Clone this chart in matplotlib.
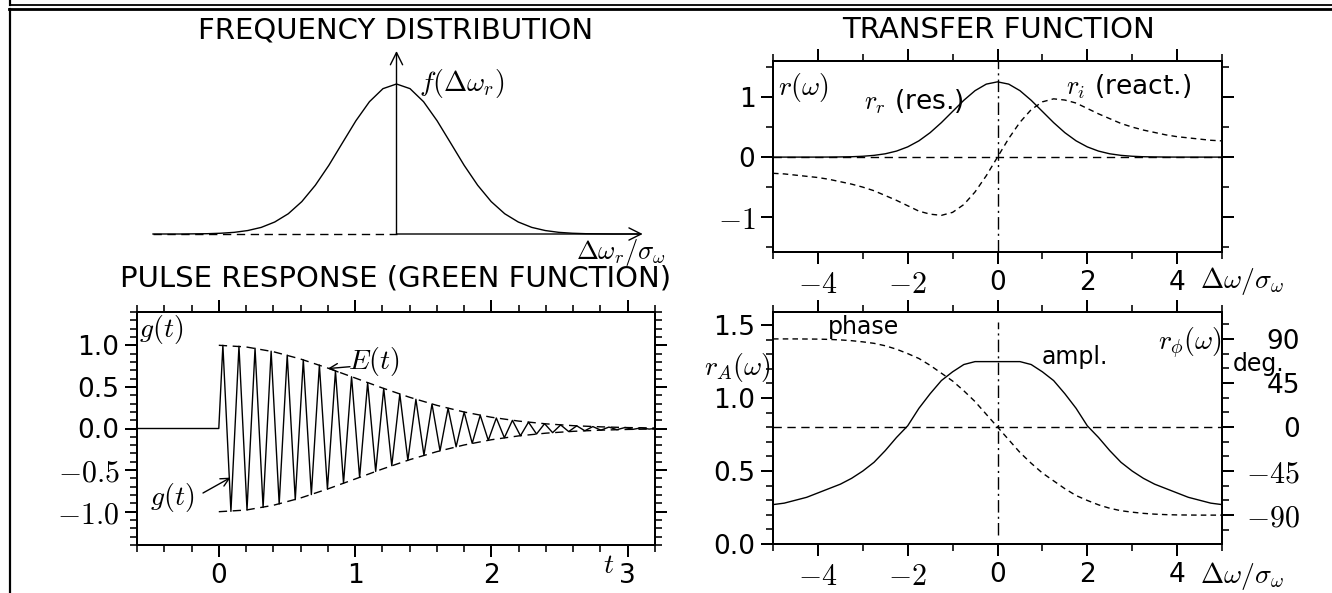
import matplotlib
matplotlib.use('Agg')
import matplotlib.pyplot as plt
from matplotlib.lines import Line2D

plt.rcParams['mathtext.fontset'] = 'cm'
plt.rcParams['font.family'] = ['DejaVu Sans']

W, H = 1332, 593
DPI = 100

# ---------------- data ----------------
# frequency distribution f(dw_r) (x in units of sigma)
freq_x = [-4.5, -4.25, -4.0, -3.75, -3.5, -3.25, -3.0, -2.75, -2.5, -2.25, -2.0, -1.75, -1.5,
          -1.25, -1.0, -0.75, -0.5, -0.25, 0.0, 0.25, 0.5, 0.75, 1.0, 1.25, 1.5, 1.75, 2.0,
          2.25, 2.5, 2.75, 3.0, 3.25, 3.5, 3.75, 4.0, 4.25, 4.5]
freq_f = [0.000, 0.000, 0.000, 0.001, 0.002, 0.005, 0.011, 0.023, 0.044, 0.080, 0.135, 0.216, 0.325,
          0.458, 0.607, 0.755, 0.882, 0.969, 1.000, 0.969, 0.882, 0.755, 0.607, 0.458, 0.325, 0.216,
          0.135, 0.080, 0.044, 0.023, 0.011, 0.005, 0.002, 0.001, 0.000, 0.000, 0.000]

# transfer function
omega = [-5.0, -4.75, -4.5, -4.25, -4.0, -3.75, -3.5, -3.25, -3.0, -2.75, -2.5, -2.25, -2.0, -1.75,
         -1.5, -1.25, -1.0, -0.75, -0.5, -0.25, 0.0, 0.25, 0.5, 0.75, 1.0, 1.25, 1.5, 1.75, 2.0,
         2.25, 2.5, 2.75, 3.0, 3.25, 3.5, 3.75, 4.0, 4.25, 4.5, 4.75, 5.0]
r_res = [0.000, 0.000, 0.000, 0.000, 0.000, 0.001, 0.003, 0.006, 0.014, 0.029, 0.055, 0.100, 0.170,
         0.271, 0.407, 0.574, 0.760, 0.946, 1.106, 1.215, 1.253, 1.215, 1.106, 0.946, 0.760, 0.574,
         0.407, 0.271, 0.170, 0.100, 0.055, 0.029, 0.014, 0.006, 0.003, 0.001, 0.000, 0.000, 0.000,
         0.000, 0.000]
r_react = [-0.27, -0.28, -0.30, -0.32, -0.34, -0.37, -0.41, -0.45, -0.50, -0.56, -0.64, -0.72, -0.81,
           -0.90, -0.95, -0.97, -0.92, -0.79, -0.58, -0.31, 0.00, 0.31, 0.58, 0.79, 0.92, 0.97, 0.95,
           0.90, 0.81, 0.72, 0.64, 0.56, 0.50, 0.45, 0.41, 0.37, 0.34, 0.32, 0.30, 0.28, 0.27]
r_ampl = [0.27, 0.28, 0.30, 0.32, 0.35, 0.38, 0.41, 0.45, 0.50, 0.56, 0.64, 0.73, 0.81, 0.93, 1.03,
          1.12, 1.18, 1.23, 1.25, 1.25, 1.25, 1.25, 1.25, 1.23, 1.18, 1.12, 1.03, 0.93, 0.81, 0.73,
          0.64, 0.56, 0.50, 0.45, 0.41, 0.38, 0.35, 0.32, 0.30, 0.28, 0.27]
r_phase = [90.0, 90.0, 90.0, 89.9, 89.8, 89.5, 89.0, 88.2, 87.0, 85.5, 83.0, 79.5, 75.0, 70.0, 63.0,
           55.0, 47.0, 37.0, 26.0, 13.0, 0.0, -13.0, -26.0, -37.0, -47.0, -55.0, -63.0, -70.0, -75.0,
           -79.5, -83.0, -85.5, -87.0, -88.2, -89.0, -89.5, -89.8, -89.9, -90.0, -90.0, -90.0]

# pulse response: envelope E(t)
env_t = [0.0, 0.2, 0.4, 0.6, 0.8, 1.0, 1.2, 1.4, 1.6, 1.8, 2.0, 2.2, 2.4, 2.6, 2.8, 3.0, 3.2]
env_E = [1.000, 0.980, 0.923, 0.835, 0.726, 0.607, 0.487, 0.375, 0.278, 0.198, 0.135, 0.089, 0.056,
         0.034, 0.020, 0.011, 0.006]

# pulse response g(t): extrema of the oscillation
g_t = [-0.6, 0.0, 0.030, 0.089, 0.148, 0.207, 0.266, 0.325, 0.384, 0.443, 0.502, 0.561, 0.620,
       0.679, 0.738, 0.797, 0.856, 0.915, 0.974, 1.033, 1.092, 1.151, 1.210, 1.269, 1.328, 1.387,
       1.446, 1.505, 1.564, 1.623, 1.682, 1.741, 1.800, 1.859, 1.918, 1.977, 2.036, 2.095, 2.154,
       2.213, 2.272, 2.331, 2.390, 2.449, 2.508, 2.567, 2.626, 2.685, 2.744, 2.803, 2.862, 2.921,
       2.980, 3.039, 3.098, 3.157, 3.2]
g_val = [0.0, 0.0, 1.000, -0.996, 0.989, -0.979, 0.965, -0.949, 0.929, -0.907, 0.882, -0.855, 0.825,
         -0.794, 0.762, -0.728, 0.693, -0.658, 0.622, -0.587, 0.551, -0.516, 0.481, -0.447, 0.414,
         -0.382, 0.351, -0.322, 0.294, -0.268, 0.243, -0.220, 0.198, -0.178, 0.159, -0.142, 0.126,
         -0.111, 0.098, -0.087, 0.076, -0.066, 0.058, -0.050, 0.043, -0.037, 0.032, -0.027, 0.023,
         -0.020, 0.017, -0.014, 0.012, -0.010, 0.008, -0.007, 0.0]

# tick labels (negative numbers are typeset in math/serif, positive ones in sans, as in the original)
tf_xticks = [-4, -2, 0, 2, 4]
tf_xlabels = [r'$-4$', r'$-2$', '0', '2', '4']
tf_yticks = [-1, 0, 1]
tf_ylabels = [r'$-1$', '0', '1']
pr_xticks = [0, 1, 2, 3]
pr_xlabels = ['0', '1', '2', '3']
pr_yticks = [-1.0, -0.5, 0.0, 0.5, 1.0]
pr_ylabels = [r'$-1.0$', r'$-0.5$', '0.0', '0.5', '1.0']
am_yticks = [0.0, 0.5, 1.0, 1.5]
am_ylabels = ['0.0', '0.5', '1.0', '1.5']
ph_yticks = [-90, -45, 0, 45, 90]
ph_ylabels = [r'$-90$', r'$-45$', '0', '45', '90']

# ---------------- helpers ----------------
PX = 72.0 / DPI  # points per pixel


def rect(l, t, r, b):
    return [l / W, 1 - b / H, (r - l) / W, (b - t) / H]


def fx(px):
    return px / W


def fy(py):
    return 1 - py / H


def style(ax):
    for s in ax.spines.values():
        s.set_linewidth(2 * PX)
    ax.tick_params(which='major', direction='out', length=12 * PX, width=2 * PX,
                   labelsize=19, pad=4)
    ax.tick_params(which='minor', direction='out', length=7 * PX, width=1.6 * PX)


def enlarge_math(labels):
    for lab in labels:
        if lab.get_text().startswith('$'):
            lab.set_fontsize(21.5)


LW = 1.0
DASH = (0, (6, 4))
SDASH = (0, (4, 3))
DASHDOT = (0, (9, 3, 1.5, 3))

fig = plt.figure(figsize=(W / DPI, H / DPI), dpi=DPI)

# ---------------- frame lines ----------------
fig.add_artist(Line2D([fx(10), 1], [fy(4.8), fy(4.8)], transform=fig.transFigure, color='k', lw=1.8 * PX))
fig.add_artist(Line2D([fx(10), fx(10)], [1, fy(4.8)], transform=fig.transFigure, color='k', lw=2.2 * PX))
fig.add_artist(Line2D([fx(9), 1], [fy(8.7), fy(8.7)], transform=fig.transFigure, color='k', lw=2.8 * PX))
fig.add_artist(Line2D([fx(10), fx(10)], [fy(8.7), 0], transform=fig.transFigure, color='k', lw=2.2 * PX))

# ---------------- frequency distribution ----------------
ax1 = fig.add_axes(rect(153, 45, 640, 234))
ax1.set_xlim(-4.5, 4.5)
ax1.set_ylim(0, 1.26)
ax1.axis('off')
ax1.plot(freq_x, freq_f, color='k', lw=LW, clip_on=False)
ax1.plot([-4.5, 0], [0, 0], color='k', lw=LW, linestyle=DASH, clip_on=False)
ax1.annotate('', xy=(4.55, 0), xytext=(0, 0),
             arrowprops=dict(arrowstyle='->', lw=LW, color='k', shrinkA=0, shrinkB=0, mutation_scale=22),
             annotation_clip=False)
ax1.annotate('', xy=(0, 1.22), xytext=(0, 0),
             arrowprops=dict(arrowstyle='->', lw=LW, color='k', shrinkA=0, shrinkB=0, mutation_scale=22),
             annotation_clip=False)
fig.text(fx(396), fy(30), 'FREQUENCY DISTRIBUTION', ha='center', va='center', size=21)
fig.text(fx(419), fy(84), r'$f(\Delta\omega_r)$', ha='left', va='center', size=20)
fig.text(fx(576), fy(252), r'$\Delta\omega_r/\sigma_\omega$', ha='left', va='center', size=19)

# ---------------- transfer function ----------------
ax2 = fig.add_axes(rect(773, 61, 1222, 252))
ax2.set_xlim(-5, 5)
ax2.set_ylim(-1.58, 1.6)
ax2.plot(omega, r_res, color='k', lw=LW)
ax2.plot(omega, r_react, color='k', lw=LW, linestyle=SDASH)
ax2.axhline(0, color='k', lw=LW, linestyle=DASH)
ax2.axvline(0, color='k', lw=LW, linestyle=DASHDOT)
ax2.set_xticks(tf_xticks, labels=tf_xlabels)
ax2.set_xticks([-5, -3, -1, 1, 3, 5], minor=True)
ax2.set_yticks(tf_yticks, labels=tf_ylabels)
ax2.set_yticks([-1.5, -0.5, 0.5, 1.5], minor=True)
style(ax2)
ax2.tick_params(which='both', top=True, right=True)
enlarge_math(ax2.get_xticklabels() + ax2.get_yticklabels())
fig.text(fx(999), fy(30), 'TRANSFER FUNCTION', ha='center', va='center', size=21)
fig.text(fx(778), fy(87), r'$r(\omega)$', ha='left', va='center', size=20)
fig.text(fx(864), fy(102), r'$r_r$ (res.)', ha='left', va='center', size=19)
fig.text(fx(1066), fy(87), r'$r_i$ (react.)', ha='left', va='center', size=19)
fig.text(fx(1200), fy(281), r'$\Delta\omega/\sigma_\omega$', ha='left', va='center', size=20)

# ---------------- pulse response ----------------
ax3 = fig.add_axes(rect(137, 312, 655, 545))
ax3.set_xlim(-0.6, 3.2)
ax3.set_ylim(-1.4, 1.4)
ax3.plot(g_t, g_val, color='k', lw=LW)
ax3.plot(env_t, env_E, color='k', lw=LW, linestyle=DASH)
ax3.plot(env_t, [-v for v in env_E], color='k', lw=LW, linestyle=DASH)
ax3.set_xticks(pr_xticks, labels=pr_xlabels)
ax3.set_xticks([-0.6, -0.4, -0.2, 0.2, 0.4, 0.6, 0.8, 1.2, 1.4, 1.6, 1.8, 2.2, 2.4, 2.6, 2.8, 3.2],
               minor=True)
ax3.set_yticks(pr_yticks, labels=pr_ylabels)
ax3.set_yticks([-1.4, -1.3, -1.2, -1.1, -0.9, -0.8, -0.7, -0.6, -0.4, -0.3, -0.2, -0.1, 0.1, 0.2, 0.3,
                0.4, 0.6, 0.7, 0.8, 0.9, 1.1, 1.2, 1.3, 1.4], minor=True)
style(ax3)
ax3.tick_params(which='both', top=True, right=True)
enlarge_math(ax3.get_xticklabels() + ax3.get_yticklabels())
fig.text(fx(396), fy(279), 'PULSE RESPONSE (GREEN FUNCTION)', ha='center', va='center', size=21)
fig.text(fx(139), fy(330), r'$g(t)$', ha='left', va='center', size=20)
fig.text(fx(348), fy(362), r'$E(t)$', ha='left', va='center', size=20)
fig.text(fx(150), fy(497), r'$g(t)$', ha='left', va='center', size=20)
fig.text(fx(609), fy(565), r'$t$', ha='center', va='center', size=20)
ax3.annotate('', xy=(0.80, 0.72), xytext=(350, H - 366.7), textcoords='figure pixels',
             arrowprops=dict(arrowstyle='->', lw=LW, color='k', shrinkA=0, shrinkB=0, mutation_scale=15))
ax3.annotate('', xy=(0.086, -0.59), xytext=(203, H - 493), textcoords='figure pixels',
             arrowprops=dict(arrowstyle='->', lw=LW, color='k', shrinkA=0, shrinkB=0, mutation_scale=15))

# ---------------- amplitude / phase ----------------
ax4 = fig.add_axes(rect(773, 312, 1222, 544))
ax4.set_xlim(-5, 5)
ax4.set_ylim(0, 1.59)
ax4.plot(omega, r_ampl, color='k', lw=LW)
ax4.plot([0, 0], [0.06, 1.52], color='k', lw=LW, linestyle=DASHDOT)
ax4.set_xticks(tf_xticks, labels=tf_xlabels)
ax4.set_xticks([-5, -3, -1, 1, 3, 5], minor=True)
ax4.set_yticks(am_yticks, labels=am_ylabels)
ax4.set_yticks([0.1, 0.2, 0.3, 0.4, 0.6, 0.7, 0.8, 0.9, 1.1, 1.2, 1.3, 1.4], minor=True)
style(ax4)
ax4.tick_params(which='both', top=True, right=False)
enlarge_math(ax4.get_xticklabels() + ax4.get_yticklabels())

ax5 = ax4.twinx()
ax5.set_ylim(-119.5, 117.5)
ax5.plot(omega, r_phase, color='k', lw=LW, linestyle=SDASH)
ax5.axhline(0, color='k', lw=LW, linestyle=DASH)
ax5.set_yticks(ph_yticks, labels=ph_ylabels)
ax5.set_yticks([-105, -75, -60, -30, -15, 15, 30, 60, 75, 105], minor=True)
style(ax5)
ax5.tick_params(axis='y', which='major', pad=47.5)
for lab in ax5.get_yticklabels():
    lab.set_horizontalalignment('right')
enlarge_math(ax5.get_yticklabels())

fig.text(fx(863), fy(327), 'phase', ha='center', va='center', size=17)
fig.text(fx(1075), fy(357), 'ampl.', ha='center', va='center', size=17)
fig.text(fx(1222), fy(343), r'$r_\phi(\omega)$', ha='right', va='center', size=20)
fig.text(fx(1233), fy(364), 'deg.', ha='left', va='center', size=17)
fig.text(fx(771), fy(368), r'$r_A(\omega)$', ha='right', va='center', size=20)
fig.text(fx(1200), fy(576), r'$\Delta\omega/\sigma_\omega$', ha='left', va='center', size=20)

fig.savefig('out.png', dpi=DPI)
